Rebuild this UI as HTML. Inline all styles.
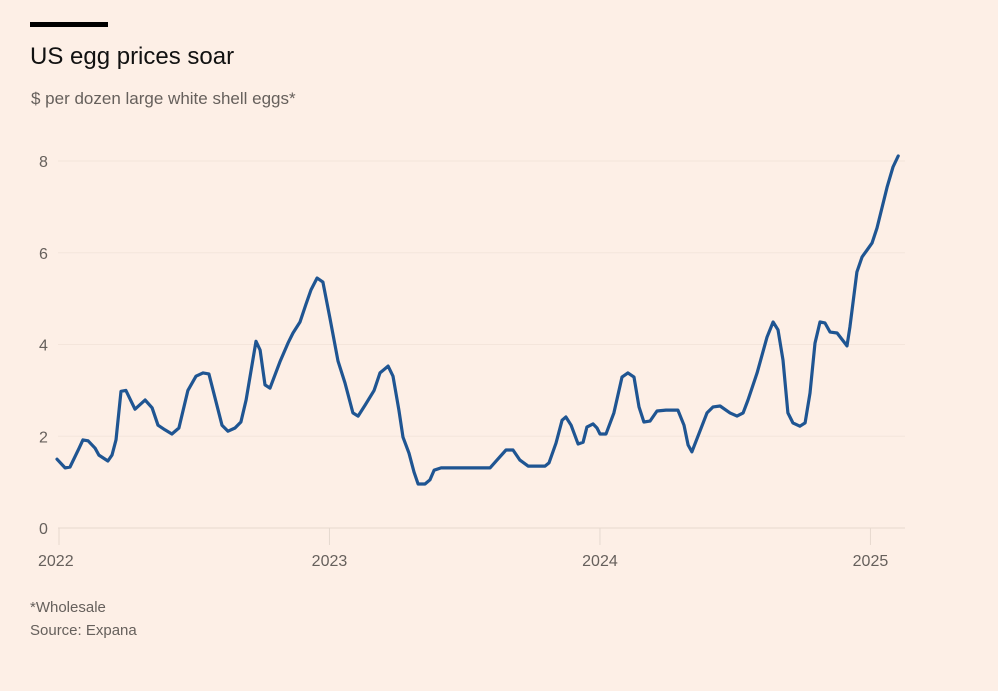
<!DOCTYPE html>
<html><head><meta charset="utf-8"><style>
html,body{margin:0;padding:0;background:#fdefe6;}
body{width:998px;height:686px;overflow:hidden;font-family:"Liberation Sans",sans-serif;}
</style></head><body>
<svg id="chart" width="998" height="686" viewBox="0 0 998 686">
<rect x="0" y="0" width="998" height="686" fill="#fdefe6"/>
<rect x="30" y="22" width="78" height="5" fill="#000"/>
<text x="30" y="64" font-size="24" fill="#111">US egg prices soar</text>
<text x="31" y="104" font-size="17" fill="#66605c">$ per dozen large white shell eggs*</text>
<g id="grid"></g><g id="xaxis"></g><g id="series"></g>
<text x="30" y="612" font-size="15" fill="#66605c">*Wholesale</text>
<text x="30" y="635" font-size="15" fill="#66605c">Source: Expana</text>
</svg>
<script>
const months=[-0.09,0.27,0.49,0.89,1.06,1.29,1.60,1.77,2.17,2.35,2.53,2.75,2.97,3.37,3.82,4.13,4.39,4.70,5.01,5.32,5.72,6.08,6.39,6.65,7.23,7.50,7.81,8.07,8.30,8.74,8.92,9.14,9.36,9.80,10.16,10.38,10.69,10.96,11.18,11.45,11.71,12.02,12.38,12.69,13.04,13.27,13.58,13.98,14.24,14.60,14.82,15.08,15.26,15.53,15.75,15.93,16.24,16.46,16.64,16.95,19.12,19.43,19.83,20.14,20.45,20.81,21.56,21.74,22.05,22.32,22.49,22.72,23.03,23.25,23.42,23.69,23.87,24.00,24.27,24.62,24.98,25.24,25.51,25.73,25.95,26.22,26.53,26.93,27.46,27.73,27.91,28.08,28.75,29.02,29.33,29.77,30.08,30.35,30.57,30.97,31.41,31.68,31.90,32.12,32.34,32.56,32.87,33.10,33.32,33.54,33.76,33.98,34.21,34.52,34.96,35.09,35.40,35.63,35.85,36.07,36.29,36.74,37.00,37.23];
const prices=[1.50,1.31,1.33,1.74,1.92,1.90,1.74,1.59,1.46,1.59,1.92,2.98,3.00,2.59,2.79,2.62,2.24,2.14,2.05,2.18,3.00,3.31,3.38,3.36,2.24,2.11,2.18,2.31,2.79,4.07,3.88,3.12,3.05,3.62,4.03,4.25,4.49,4.88,5.19,5.45,5.36,4.58,3.64,3.16,2.51,2.44,2.68,3.00,3.38,3.53,3.31,2.57,1.98,1.63,1.22,0.96,0.96,1.05,1.26,1.31,1.31,1.48,1.70,1.70,1.48,1.35,1.35,1.42,1.85,2.35,2.42,2.24,1.83,1.87,2.20,2.27,2.18,2.05,2.05,2.51,3.29,3.38,3.29,2.64,2.31,2.33,2.55,2.57,2.57,2.24,1.81,1.66,2.51,2.64,2.66,2.51,2.44,2.51,2.79,3.38,4.16,4.49,4.32,3.66,2.51,2.29,2.22,2.29,2.94,4.03,4.49,4.47,4.27,4.25,3.97,4.38,5.58,5.91,6.06,6.21,6.54,7.43,7.87,8.11];
const yTicks=[0,2,4,6,8];
const yTickLabels=["0","2","4","6","8"];
const xTicks=[0,12,24,36];
const xTickLabels=["2022","2023","2024","2025"];
const NS="http://www.w3.org/2000/svg";
const xs=m=>59+m*22.54;
const ys=v=>528-v*45.875;
const grid=document.getElementById('grid');
yTicks.forEach((t,i)=>{
 const l=document.createElementNS(NS,'line');
 l.setAttribute('x1',58);l.setAttribute('x2',905);l.setAttribute('y1',ys(t));l.setAttribute('y2',ys(t));
 l.setAttribute('stroke',t===0?'#e6d9cf':'#f4e5db');l.setAttribute('stroke-width',1);
 
 
 grid.appendChild(l);
 const tx=document.createElementNS(NS,'text');
 tx.setAttribute('x',39);tx.setAttribute('y',ys(t)+6);tx.setAttribute('font-size',16);tx.setAttribute('fill','#66605c');
 tx.textContent=yTickLabels[i];
 
 
 grid.appendChild(tx);
});
const xa=document.getElementById('xaxis');
xTicks.forEach((t,i)=>{
 const l=document.createElementNS(NS,'line');
 l.setAttribute('x1',xs(t));l.setAttribute('x2',xs(t));l.setAttribute('y1',528);l.setAttribute('y2',545);
 l.setAttribute('stroke','#e6d9cf');l.setAttribute('stroke-width',1);
 
 
 xa.appendChild(l);
 const tx=document.createElementNS(NS,'text');
 tx.setAttribute('x',i===0?38:xs(t));tx.setAttribute('y',566);tx.setAttribute('font-size',16);tx.setAttribute('fill','#66605c');
 tx.setAttribute('text-anchor',i===0?'start':'middle');
 tx.textContent=xTickLabels[i];
 
 
 xa.appendChild(tx);
});
const p=document.createElementNS(NS,'path');
p.setAttribute('d',months.map((m,i)=>(i?'L':'M')+xs(m).toFixed(1)+','+ys(prices[i]).toFixed(1)).join(''));
p.setAttribute('fill','none');p.setAttribute('stroke','#1f5592');p.setAttribute('stroke-width',3.2);
p.setAttribute('stroke-linejoin','round');p.setAttribute('stroke-linecap','round');


document.getElementById('series').appendChild(p);
</script>
</body></html>
